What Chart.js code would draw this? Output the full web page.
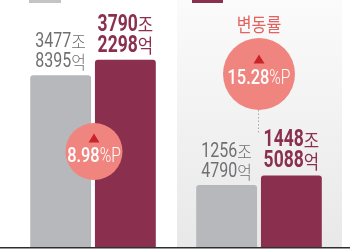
<!DOCTYPE html>
<html>
<head>
<meta charset="utf-8">
<script src="https://cdn.jsdelivr.net/npm/chart.js@4.4.1/dist/chart.umd.min.js"></script>
<style>
  html, body { margin: 0; padding: 0; background: #fff; }
  #c { display: block; }
</style>
</head>
<body>
<canvas id="c" width="350" height="250"></canvas>
<script>
// 데이터 (단위: 조원 / 억원)
const categories = ['구분1', '구분2'];
const prevJo = [3477, 1256];
const prevEok = [8395, 4790];
const currJo = [3790, 1448];
const currEok = [2298, 5088];
const changeRates = ['8.98', '15.28'];
const changeTitle = '변동률';

const prevValues = prevJo.map((j, i) => j + prevEok[i] / 10000);
const currValues = currJo.map((j, i) => j + currEok[i] / 10000);

const GRAY = '#b6b8bc';
const MAROON = '#8a2f4d';
const PINK = '#f0857f';
const RED = '#c9242c';
const NUM_FONT = 'Roboto, "Noto Sans CJK KR", sans-serif';
const KR_FONT = '"Noto Sans CJK KR", sans-serif';

// 숫자는 굵게, 단위는 얇게 — 가로로 살짝 눌러서(장체) 한 줄로 그리기
function drawMixed(ctx, parts, cx, cy) {
  let total = 0;
  parts.forEach(p => {
    ctx.font = p.font;
    p.sx = p.sx || 1;
    p.w = ctx.measureText(p.text).width * p.sx;
    total += p.w;
  });
  let x = cx - total / 2;
  ctx.textBaseline = 'middle';
  ctx.textAlign = 'left';
  parts.forEach(p => {
    ctx.save();
    ctx.font = p.font;
    ctx.fillStyle = p.color;
    ctx.translate(x, cy);
    ctx.scale(p.sx, 1);
    ctx.fillText(p.text, 0, 0);
    ctx.restore();
    x += p.w;
  });
}

function drawTriangle(ctx, cx, cy, w, h) {
  ctx.fillStyle = RED;
  ctx.beginPath();
  ctx.moveTo(cx, cy - h / 2);
  ctx.lineTo(cx + w / 2, cy + h / 2);
  ctx.lineTo(cx - w / 2, cy + h / 2);
  ctx.closePath();
  ctx.fill();
}

function drawBubble(ctx, cx, cy, r, rate, size, triY, textY) {
  ctx.fillStyle = PINK;
  ctx.beginPath();
  ctx.arc(cx, cy, r, 0, Math.PI * 2);
  ctx.fill();
  drawTriangle(ctx, cx, triY, 11, 9);
  drawMixed(ctx, [
    { text: rate, font: '500 ' + size + 'px ' + NUM_FONT, color: '#fff', sx: 0.78 },
    { text: '%P', font: '300 ' + (size - 1) + 'px ' + NUM_FONT, color: '#fff', sx: 0.78 }
  ], cx, textY);
}

const decor = {
  id: 'decor',
  beforeDatasetsDraw(chart) {
    const ctx = chart.ctx;
    const area = chart.chartArea;
    const xs = chart.scales.x;
    const half = (area.right - area.left) / categories.length / 2;
    const c2 = xs.getPixelForValue(1);
    ctx.save();
    // 오른쪽 패널 배경
    const g = ctx.createLinearGradient(0, 0, 0, area.bottom);
    g.addColorStop(0, '#fbfbfb');
    g.addColorStop(1, '#e8e8e9');
    ctx.fillStyle = g;
    ctx.fillRect(c2 - half + 1, 0, half * 2 - 1, area.bottom);
    // 상단 범례 조각
    ctx.fillStyle = '#c4c4c6';
    ctx.fillRect(29, 0, 32, 3);
    ctx.fillStyle = MAROON;
    ctx.fillRect(192, 0, 31, 3);
    ctx.restore();
  },
  afterDatasetsDraw(chart) {
    const ctx = chart.ctx;
    const area = chart.chartArea;
    const prevMeta = chart.getDatasetMeta(0);
    const currMeta = chart.getDatasetMeta(1);
    ctx.save();
    // 막대 위 금액
    prevMeta.data.forEach((bar, i) => {
      drawMixed(ctx, [
        { text: String(prevJo[i]), font: '400 20px ' + NUM_FONT, color: '#6f6f72', sx: 0.8 },
        { text: '조', font: '300 18px ' + KR_FONT, color: '#6f6f72', sx: 0.88 }
      ], bar.x, bar.y - 33);
      drawMixed(ctx, [
        { text: String(prevEok[i]), font: '400 20px ' + NUM_FONT, color: '#6f6f72', sx: 0.8 },
        { text: '억', font: '300 18px ' + KR_FONT, color: '#6f6f72', sx: 0.88 }
      ], bar.x, bar.y - 13);
    });
    currMeta.data.forEach((bar, i) => {
      drawMixed(ctx, [
        { text: String(currJo[i]), font: 'bold 23px ' + NUM_FONT, color: MAROON, sx: 0.76 },
        { text: '조', font: '400 19px ' + KR_FONT, color: MAROON, sx: 0.88 }
      ], bar.x, bar.y - 35);
      drawMixed(ctx, [
        { text: String(currEok[i]), font: 'bold 23px ' + NUM_FONT, color: MAROON, sx: 0.76 },
        { text: '억', font: '400 19px ' + KR_FONT, color: MAROON, sx: 0.88 }
      ], bar.x, bar.y - 14);
    });

    const xs = chart.scales.x;
    const c1 = xs.getPixelForValue(0);
    const c2 = xs.getPixelForValue(1);
    // 변동률 제목
    drawMixed(ctx, [
      { text: changeTitle, font: '400 19px ' + KR_FONT, color: '#e2625e', sx: 0.85 }
    ], c2, 25);
    // 점선
    ctx.strokeStyle = '#a8a8aa';
    ctx.lineWidth = 1;
    ctx.setLineDash([1.5, 2]);
    ctx.beginPath();
    ctx.moveTo(c2 - 0.5, 110);
    ctx.lineTo(c2 - 0.5, 134);
    ctx.stroke();
    ctx.setLineDash([]);
    // 변동률 원
    drawBubble(ctx, c1 + 1, 151.5, 28.5, changeRates[0], 21, 138, 157);
    drawBubble(ctx, c2, 74, 36, changeRates[1], 21, 59, 79);

    // 바닥선
    ctx.strokeStyle = '#2e2e30';
    ctx.lineWidth = 1.5;
    ctx.beginPath();
    ctx.moveTo(0, area.bottom + 0.75);
    ctx.lineTo(chart.width, area.bottom + 0.75);
    ctx.stroke();
    ctx.restore();
  }
};

new Chart(document.getElementById('c'), {
  type: 'bar',
  data: {
    labels: categories,
    datasets: [
      {
        label: '이전',
        data: prevValues,
        backgroundColor: GRAY,
        borderRadius: { topLeft: 3, topRight: 3 },
        borderSkipped: 'start',
        barPercentage: 0.94,
        categoryPercentage: 0.78
      },
      {
        label: '현재',
        data: currValues,
        backgroundColor: MAROON,
        borderRadius: { topLeft: 3, topRight: 3 },
        borderSkipped: 'start',
        barPercentage: 0.94,
        categoryPercentage: 0.78
      }
    ]
  },
  options: {
    responsive: false,
    animation: false,
    layout: { padding: { left: 10, right: 8, top: 0, bottom: 3 } },
    plugins: {
      legend: { display: false },
      tooltip: { enabled: false }
    },
    scales: {
      x: { display: false },
      y: { display: false, min: 0, max: 5000 }
    }
  },
  plugins: [decor]
});
</script>
</body>
</html>
